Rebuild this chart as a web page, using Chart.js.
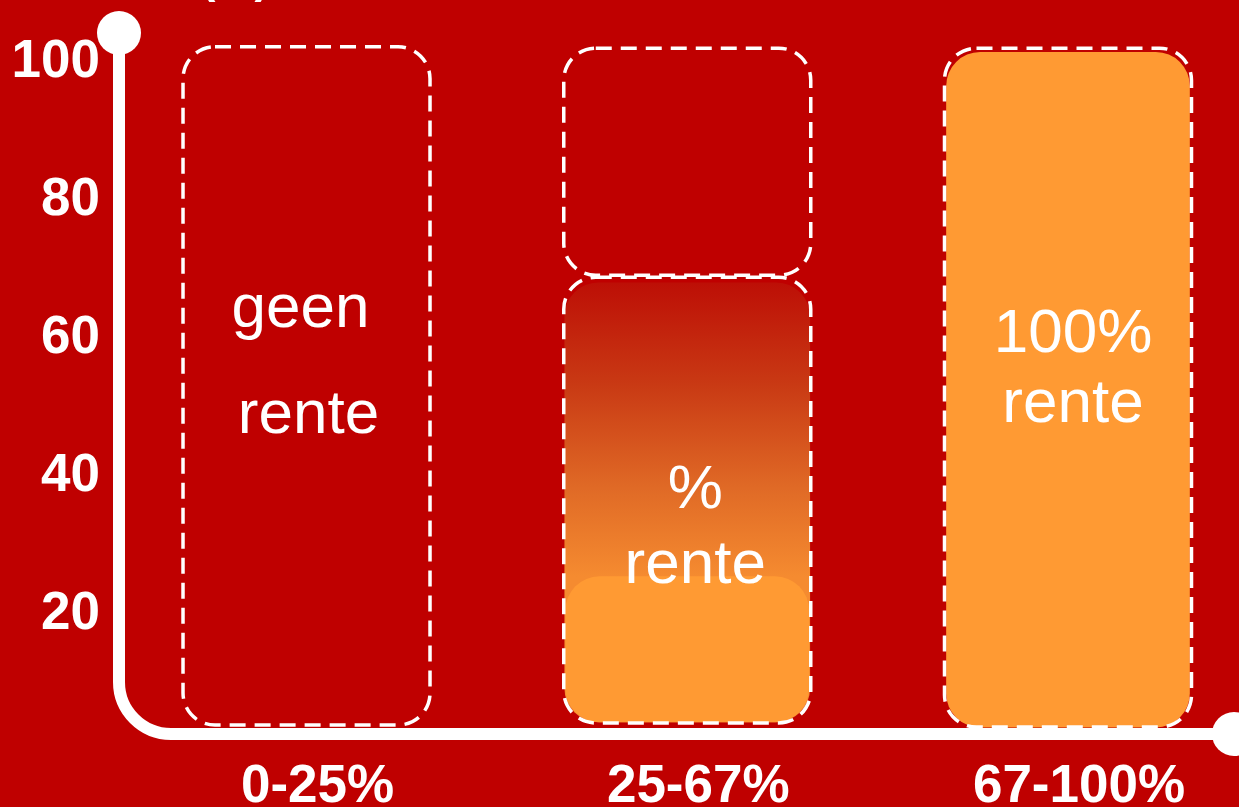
<!DOCTYPE html>
<html><head><meta charset="utf-8">
<script src="https://cdn.jsdelivr.net/npm/chart.js@4/dist/chart.umd.min.js"></script>
<style>html,body{margin:0;padding:0;background:#BF0000;overflow:hidden}#wrap{width:1239px;height:807px;position:relative}</style>
</head><body><div id="wrap"><canvas id="c"></canvas></div>
<script>
// ---- data ----
const categories = ['0-25%', '25-67%', '67-100%'];
const yTickValues = [20, 40, 60, 80, 100];
const yTitle = '(%)';
// dashed outline boxes (low / high values per category)
const outlineLow  = [3.9, 4.2, 3.6];
const outlineHigh = [102.2, 68.8, 102.0];
const upperOutlineLow  = [null, 69.1, null];
const upperOutlineHigh = [null, 102.0, null];
// gradient fill (partial pension)
const gradientLow  = [null, 4.35, null];
const gradientHigh = [null, 68.0, null];
// solid orange fill
const solidLow  = [null, 4.35, 3.6];
const solidHigh = [null, 25.4, 101.4];
// texts inside the boxes
const barLines = [['geen', 'rente'], ['%', 'rente'], ['100%', 'rente']];

// ---- helpers ----
function toData(lo, hi) {
  const out = [];
  categories.forEach((c, i) => { if (lo[i] != null && hi[i] != null) out.push({x: i, y: [lo[i], hi[i]]}); });
  return out;
}
const FONT = "'Liberation Sans', Arial, sans-serif";
const ORANGE = '#FF9A33';

const bgPlugin = {
  id: 'bg',
  beforeDraw(chart) {
    const c = chart.ctx; c.save(); c.fillStyle = '#BF0000';
    c.fillRect(0, 0, chart.width, chart.height); c.restore();
  }
};

const dashPlugin = {
  id: 'dashOutline',
  afterDatasetsDraw(chart) {
    const c = chart.ctx;
    c.save();
    c.strokeStyle = '#ffffff'; c.lineWidth = 3.5; c.setLineDash([16, 9]);
    chart.data.datasets.forEach((ds, di) => {
      if (!ds.dashed) return;
      chart.getDatasetMeta(di).data.forEach(el => {
        const p = el.getProps(['x', 'y', 'base', 'width'], true);
        const top = Math.min(p.y, p.base), bot = Math.max(p.y, p.base);
        c.beginPath();
        c.roundRect(p.x - p.width / 2, top, p.width, bot - top, 32);
        c.stroke();
      });
    });
    c.restore();
  }
};

const axisPlugin = {
  id: 'axisDeco',
  afterDraw(chart) {
    const c = chart.ctx, a = chart.chartArea;
    c.save();
    c.strokeStyle = '#fff'; c.fillStyle = '#fff'; c.lineWidth = 12;
    const r = 52;
    c.beginPath();
    c.moveTo(a.left, a.top);
    c.lineTo(a.left, a.bottom - r);
    c.arcTo(a.left, a.bottom, a.left + r, a.bottom, r);
    c.lineTo(a.right, a.bottom);
    c.stroke();
    c.beginPath(); c.arc(a.left, a.top, 22, 0, Math.PI * 2); c.fill();
    c.beginPath(); c.arc(a.right, a.bottom, 22, 0, Math.PI * 2); c.fill();
    // axis title, mostly above the top edge
    c.font = 'bold 44px ' + FONT; c.textAlign = 'center'; c.textBaseline = 'alphabetic';
    c.fillText(yTitle, a.left + 116, -7);
    c.restore();
  }
};

// text layout: y anchor as axis value, dx in px from box centre
const textLayout = [
  [{v: 61.6, dx: -6}, {v: 46.2, dx: 2}],
  [{v: 35.4, dx: 8}, {v: 24.5, dx: 8}],
  [{v: 58.0, dx: 5}, {v: 47.8, dx: 5}]
];
const textPlugin = {
  id: 'boxText',
  afterDatasetsDraw(chart) {
    const c = chart.ctx, ys = chart.scales.y, xs = chart.scales.x;
    c.save();
    c.fillStyle = '#fff'; c.font = '62px ' + FONT; c.textAlign = 'center'; c.textBaseline = 'alphabetic';
    barLines.forEach((lines, i) => {
      const cx = xs.getPixelForValue(i);
      lines.forEach((t, k) => {
        const L = textLayout[i][k];
        c.fillText(t, cx + L.dx, ys.getPixelForValue(L.v));
      });
    });
    c.restore();
  }
};

function gradientFill(ctx) {
  const chart = ctx.chart, a = chart.chartArea;
  if (!a) return '#E07030';
  const ys = chart.scales.y;
  const y0 = ys.getPixelForValue(gradientHigh[1]);
  const y1 = ys.getPixelForValue(solidHigh[1]);
  const g = chart.ctx.createLinearGradient(0, y0, 0, y1);
  g.addColorStop(0, '#BD0F06');
  g.addColorStop(0.35, '#C93A14');
  g.addColorStop(0.7, '#E06A26');
  g.addColorStop(1, '#F58B30');
  return g;
}

new Chart(document.getElementById('c'), {
  type: 'bar',
  data: {
    datasets: [
      {label: 'kader', data: toData(outlineLow, outlineHigh), backgroundColor: 'rgba(0,0,0,0)', borderWidth: 0,
       barThickness: 247, grouped: false, dashed: true, order: 0},
      {label: 'kader boven', data: toData(upperOutlineLow, upperOutlineHigh), backgroundColor: 'rgba(0,0,0,0)', borderWidth: 0,
       barThickness: 247, grouped: false, dashed: true, order: 0},
      {label: 'rente', data: toData(solidLow, solidHigh), backgroundColor: ORANGE, borderWidth: 0,
       barThickness: 243, borderRadius: 34, borderSkipped: false, grouped: false, order: 1},
      {label: 'gedeeltelijk', data: toData(gradientLow, gradientHigh), backgroundColor: gradientFill, borderWidth: 0,
       barThickness: 245, borderRadius: 34, borderSkipped: false, grouped: false, order: 2}
    ]
  },
  options: {
    responsive: true, maintainAspectRatio: false, animation: false,
    layout: {padding: {top: 33, right: 5, left: 0, bottom: 0}},
    plugins: {legend: {display: false}, tooltip: {enabled: false}},
    scales: {
      x: {
        type: 'linear', min: -0.4925, max: 2.436, offset: false,
        grid: {display: false, drawTicks: false, offset: false}, border: {display: false},
        afterBuildTicks: s => { s.ticks = categories.map((_, i) => ({value: i})); },
        afterFit: s => { s.height = 73; s.paddingLeft = 0; s.paddingRight = 0; },
        ticks: {callback: v => categories[v] ?? '', color: '#fff', font: {family: FONT, size: 53, weight: 'bold'},
                padding: 22, labelOffset: 11, autoSkip: false, maxRotation: 0}
      },
      y: {
        min: 2.6, max: 104.2,
        grid: {display: false, drawTicks: false}, border: {display: false},
        afterBuildTicks: s => { s.ticks = yTickValues.map(v => ({value: v})); },
        afterFit: s => { s.width = 119; s.paddingTop = 0; s.paddingBottom = 0; },
        ticks: {color: '#fff', font: {family: FONT, size: 53, weight: 'bold'}, padding: 19, autoSkip: false}
      }
    }
  },
  plugins: [bgPlugin, dashPlugin, textPlugin, axisPlugin]
});
</script></body></html>
